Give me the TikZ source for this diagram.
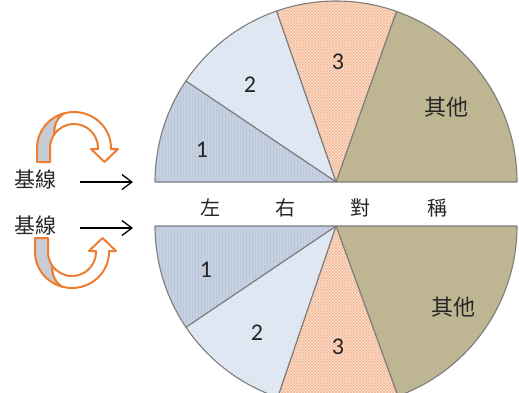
\documentclass[tikz,border=0pt]{standalone}
\usepackage{fontspec}
\setmainfont{Carlito}
\newfontfamily\cjk{Noto Sans CJK TC}
\usetikzlibrary{arrows.meta,patterns}
\definecolor{sone}{RGB}{197,208,224}
\definecolor{sonel}{RGB}{189,201,219}
\definecolor{stwo}{RGB}{224,232,243}
\definecolor{stwol}{RGB}{208,218,234}
\definecolor{sthree}{RGB}{251,228,213}
\definecolor{sthreel}{RGB}{245,186,150}
\definecolor{sother}{RGB}{190,181,146}
\definecolor{edge}{RGB}{125,125,125}
\definecolor{ribbon}{RGB}{237,125,49}
\definecolor{ribbongray}{RGB}{200,204,212}
\definecolor{txt}{RGB}{38,38,38}
\newcommand{\ribbonarrow}{%
  \filldraw[ribbonline,fill=white] (-9.58,-34.77) arc[start angle=255,end angle=360,x radius=37,y radius=36]
    -- (37,1) -- (44,1) -- (30.5,14) -- (17,1) -- (24,1) -- (24,0)
    arc[start angle=360,end angle=215,radius=24]
    .. controls (-21,-24) and (-15,-32) .. (-9.58,-34.77) -- cycle;
  \filldraw[ribbonline,fill=ribbongray] (-37,14) -- (-37,0)
    arc[start angle=180,end angle=255,x radius=37,y radius=36]
    .. controls (-15,-32) and (-21,-24) .. (-19.66,-13.77)
    arc[start angle=215,end angle=180,radius=24] -- (-24,14) -- cycle;
}
\begin{document}
\begin{tikzpicture}[x=1pt,y=-1pt,
  sector/.style={draw=edge,line width=1.1pt,line join=round},
  numlabel/.style={font=\fontsize{24}{24}\selectfont,text=txt},
  otherlabel/.style={font=\cjk\fontsize{22}{22}\selectfont,text=txt},
  symlabel/.style={font=\cjk\fontsize{20}{20}\selectfont,text=txt},
  baselabel/.style={font=\cjk\fontsize{21}{21}\selectfont,text=txt},
  basearrow/.style={-{Straight Barb[length=10pt,width=15pt,line width=1.3pt]},line width=1.3pt,black,shorten <=20pt},
  ribbonline/.style={draw=ribbon,line width=2pt,line join=round},
]
\path[use as bounding box] (0,0) rectangle (519,392);

% upper half
\begin{scope}[shift={(336,182)}]
  \filldraw[sector,fill=sother] (0,0) -- (0:181) arc[start angle=0,end angle=-70.5,radius=181] -- cycle;
  \fill[sthree] (0,0) -- (-70.5:181) arc[start angle=-70.5,end angle=-109.2,radius=181] -- cycle;
  \fill[pattern=north east lines,pattern color=sthreel] (0,0) -- (-70.5:181) arc[start angle=-70.5,end angle=-109.2,radius=181] -- cycle;
  \fill[pattern=north west lines,pattern color=sthreel] (0,0) -- (-70.5:181) arc[start angle=-70.5,end angle=-109.2,radius=181] -- cycle;
  \draw[sector] (0,0) -- (-70.5:181) arc[start angle=-70.5,end angle=-109.2,radius=181] -- cycle;
  \fill[stwo] (0,0) -- (-109.2:181) arc[start angle=-109.2,end angle=-146.1,radius=181] -- cycle;
  \fill[pattern=dots,pattern color=stwol] (0,0) -- (-109.2:181) arc[start angle=-109.2,end angle=-146.1,radius=181] -- cycle;
  \draw[sector] (0,0) -- (-109.2:181) arc[start angle=-109.2,end angle=-146.1,radius=181] -- cycle;
  \fill[sone] (0,0) -- (-146.1:181) arc[start angle=-146.1,end angle=-180,radius=181] -- cycle;
  \fill[pattern=vertical lines,pattern color=sonel] (0,0) -- (-146.1:181) arc[start angle=-146.1,end angle=-180,radius=181] -- cycle;
  \draw[sector] (0,0) -- (-146.1:181) arc[start angle=-146.1,end angle=-180,radius=181] -- cycle;
\end{scope}

% lower half
\begin{scope}[shift={(336,226)}]
  \filldraw[sector,fill=sother] (0,0) -- (0:181) arc[start angle=0,end angle=70,radius=181] -- cycle;
  \fill[sthree] (0,0) -- (70:181) arc[start angle=70,end angle=108.8,radius=181] -- cycle;
  \fill[pattern=north east lines,pattern color=sthreel] (0,0) -- (70:181) arc[start angle=70,end angle=108.8,radius=181] -- cycle;
  \fill[pattern=north west lines,pattern color=sthreel] (0,0) -- (70:181) arc[start angle=70,end angle=108.8,radius=181] -- cycle;
  \draw[sector] (0,0) -- (70:181) arc[start angle=70,end angle=108.8,radius=181] -- cycle;
  \fill[stwo] (0,0) -- (108.8:181) arc[start angle=108.8,end angle=146,radius=181] -- cycle;
  \fill[pattern=dots,pattern color=stwol] (0,0) -- (108.8:181) arc[start angle=108.8,end angle=146,radius=181] -- cycle;
  \draw[sector] (0,0) -- (108.8:181) arc[start angle=108.8,end angle=146,radius=181] -- cycle;
  \fill[sone] (0,0) -- (146:181) arc[start angle=146,end angle=180,radius=181] -- cycle;
  \fill[pattern=vertical lines,pattern color=sonel] (0,0) -- (146:181) arc[start angle=146,end angle=180,radius=181] -- cycle;
  \draw[sector] (0,0) -- (146:181) arc[start angle=146,end angle=180,radius=181] -- cycle;
\end{scope}

% sector labels
\node[numlabel] (u1) at (202,150) {1};
\node[numlabel] (u2) at (250,85) {2};
\node[numlabel] (u3) at (338,62) {3};
\node[otherlabel] (uo) at (446,107) {其他};
\node[numlabel] (l1) at (206,270) {1};
\node[numlabel] (l2) at (257,333) {2};
\node[numlabel] (l3) at (338,347) {3};
\node[otherlabel] (lo) at (453,307) {其他};

% symmetry text
\node[symlabel] (s1) at (210,208) {左};
\node[symlabel] (s2) at (285,208) {右};
\node[symlabel] (s3) at (360,208) {對};
\node[symlabel] (s4) at (437,208) {稱};

% baselines
\node[baselabel] (b1) at (35,180) {基線};
\node[baselabel] (b2) at (35,226) {基線};
\coordinate (t1) at (133,182);
\coordinate (t2) at (133,228);
\draw[basearrow] (b1.east |- t1) -- (t1);
\draw[basearrow] (b2.east |- t2) -- (t2);

% curved ribbon arrows
\begin{scope}[shift={(74,148)}]
  \ribbonarrow
\end{scope}
\begin{scope}[shift={(72,252)},yscale=-1]
  \ribbonarrow
\end{scope}
\end{tikzpicture}
\end{document}
